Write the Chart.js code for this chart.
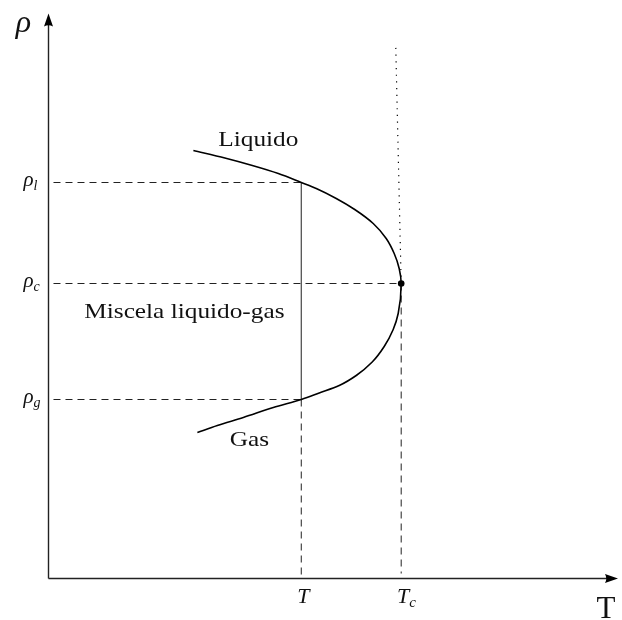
<!DOCTYPE html>
<html>
<head>
<meta charset="utf-8">
<script src="https://cdn.jsdelivr.net/npm/chart.js@4/dist/chart.umd.min.js"></script>
<style>
  html, body { margin: 0; padding: 0; background: #ffffff; }
  #wrap { width: 622px; height: 620px; }
</style>
</head>
<body>
<div id="wrap"><canvas id="c" width="622" height="620"></canvas></div>
<script>
// Characteristic values of the diagram (arbitrary units)
const T = 2.53;      // chosen temperature
const Tc = 3.53;     // critical temperature
const rhoL = 3.96;   // liquid density at T
const rhoC = 2.95;   // critical density
const rhoG = 1.79;   // gas density at T

// Liquid branch of the coexistence curve (from low T up to the critical point)
const liquidT   = [1.45, 1.765, 2.04, 2.30, 2.53, 2.68, 2.88, 3.065, 3.25, 3.38, 3.46, 3.51, 3.53];
const liquidRho = [4.28, 4.205, 4.13, 4.05, 3.96, 3.90, 3.80, 3.69, 3.55, 3.40, 3.25, 3.10, 2.95];

// Gas branch of the coexistence curve (from the critical point down to low T)
const gasT   = [3.53, 3.50, 3.45, 3.36, 3.24, 3.08, 2.91, 2.71, 2.53, 2.25, 1.95, 1.69, 1.49];
const gasRho = [2.82, 2.65, 2.49, 2.32, 2.165, 2.03, 1.93, 1.855, 1.79, 1.71, 1.61, 1.53, 1.46];

// Axis extent
const xMax = 5.70;
const yMax = 5.65;
// Top of the dotted line above the critical point
const dottedTopT = 3.475;
const dottedTopRho = 5.35;

// Tick labels
const yTickValues = [rhoL, rhoC, rhoG];
const yTickSubs   = ['l', 'c', 'g'];
const xTickValues = [T, Tc];
const xTickSubs   = ['', 'c'];

// The whole curve is single-valued in density, so it is interpolated along rho
const curve = liquidT.map((t, i) => ({ x: t, y: liquidRho[i] }))
  .concat(gasT.slice(1).map((t, i) => ({ x: t, y: gasRho[i + 1] })));

const dashed = [7, 5];
const lineDs = (data, opts) => Object.assign({
  data, showLine: true, pointRadius: 0, borderWidth: 1, borderColor: '#222', fill: false
}, opts);

const SERIF = '"Liberation Serif", "DejaVu Serif", serif';

function stretchedText(ctx, text, x, y, font, sx, align) {
  ctx.save();
  ctx.font = font;
  ctx.textAlign = align || 'center';
  ctx.textBaseline = 'alphabetic';
  ctx.translate(x, y);
  ctx.scale(sx, 1);
  ctx.fillText(text, 0, 0);
  ctx.restore();
}

// Axes with arrowheads plus all text labels
const decor = {
  id: 'decor',
  afterDatasetsDraw(chart) {
    const ctx = chart.ctx;
    const xs = chart.scales.x, ys = chart.scales.y;
    const x0 = xs.getPixelForValue(0), y0 = ys.getPixelForValue(0);
    const xEnd = xs.getPixelForValue(xMax), yEnd = ys.getPixelForValue(yMax);
    ctx.save();
    ctx.fillStyle = '#000';
    ctx.strokeStyle = '#222';
    ctx.lineWidth = 1.4;
    ctx.beginPath();
    ctx.moveTo(x0, y0);
    ctx.lineTo(x0, yEnd + 8);
    ctx.moveTo(x0, y0);
    ctx.lineTo(xEnd - 8, y0);
    ctx.stroke();
    // y arrowhead
    ctx.beginPath();
    ctx.moveTo(x0, yEnd);
    ctx.lineTo(x0 + 4.5, yEnd + 13);
    ctx.quadraticCurveTo(x0, yEnd + 10.5, x0 - 4.5, yEnd + 13);
    ctx.closePath();
    ctx.fill();
    // x arrowhead
    ctx.beginPath();
    ctx.moveTo(xEnd, y0);
    ctx.lineTo(xEnd - 13, y0 + 4.5);
    ctx.quadraticCurveTo(xEnd - 10.5, y0, xEnd - 13, y0 - 4.5);
    ctx.closePath();
    ctx.fill();

    ctx.fillStyle = '#111';
    // axis titles
    ctx.font = 'italic 32px ' + SERIF;
    ctx.textAlign = 'center';
    ctx.fillText('ρ', x0 - 25, yEnd + 18);
    ctx.font = '31px ' + SERIF;
    ctx.fillText('T', xEnd - 12, y0 + 39);

    // y tick labels
    yTickValues.forEach((v, i) => {
      const py = ys.getPixelForValue(v);
      ctx.font = 'italic 21px ' + SERIF;
      ctx.textAlign = 'right';
      ctx.fillText('ρ', x0 - 15, py + 3);
      ctx.font = 'italic 14px ' + SERIF;
      ctx.textAlign = 'left';
      ctx.fillText(yTickSubs[i], x0 - 15, py + 7);
    });
    // x tick labels
    xTickValues.forEach((v, i) => {
      const px = xs.getPixelForValue(v);
      ctx.font = 'italic 22px ' + SERIF;
      ctx.textAlign = 'center';
      ctx.fillText('T', px + 2, y0 + 24);
      if (xTickSubs[i]) {
        ctx.font = 'italic 15px ' + SERIF;
        ctx.textAlign = 'left';
        ctx.fillText(xTickSubs[i], px + 8, y0 + 28);
      }
    });

    // region labels
    const f = '22px ' + SERIF;
    stretchedText(ctx, 'Liquido', xs.getPixelForValue(2.10), ys.getPixelForValue(4.33), f, 1.15);
    stretchedText(ctx, 'Gas', xs.getPixelForValue(2.01), ys.getPixelForValue(1.33), f, 1.15);
    stretchedText(ctx, 'Miscela liquido-gas', xs.getPixelForValue(1.36), ys.getPixelForValue(2.61), f, 1.15);
    ctx.restore();
  }
};

new Chart(document.getElementById('c'), {
  type: 'scatter',
  data: {
    datasets: [
      // coexistence curve
      lineDs(curve, { borderColor: '#000', borderWidth: 1.6, indexAxis: 'y', cubicInterpolationMode: 'monotone' }),
      // tie line at T
      lineDs([{ x: T, y: rhoL }, { x: T, y: rhoG }], { borderColor: '#444', borderWidth: 1.2 }),
      // dashed guides
      lineDs([{ x: 0.05, y: rhoL }, { x: T, y: rhoL }], { borderDash: dashed }),
      lineDs([{ x: 0.05, y: rhoC }, { x: Tc, y: rhoC }], { borderDash: dashed }),
      lineDs([{ x: 0.05, y: rhoG }, { x: T, y: rhoG }], { borderDash: dashed }),
      lineDs([{ x: T, y: rhoG }, { x: T, y: 0 }], { borderDash: dashed }),
      lineDs([{ x: Tc, y: rhoC }, { x: Tc, y: 0.05 }], { borderDash: dashed }),
      // dotted line above the critical point
      lineDs([{ x: Tc, y: rhoC }, { x: dottedTopT, y: dottedTopRho }], { borderDash: [1.2, 5.5], borderColor: '#000', borderWidth: 1.2 }),
      // critical point
      { data: [{ x: Tc, y: rhoC }], pointRadius: 3.3, pointBackgroundColor: '#000', pointBorderWidth: 0, showLine: false }
    ]
  },
  options: {
    responsive: false,
    animation: false,
    layout: { padding: { left: 48.5, right: 3.5, top: 13.5, bottom: 41.5 } },
    plugins: { legend: { display: false }, tooltip: { enabled: false } },
    scales: {
      x: { type: 'linear', min: 0, max: xMax, display: false },
      y: { type: 'linear', min: 0, max: yMax, display: false }
    }
  },
  plugins: [decor]
});
</script>
</body>
</html>
